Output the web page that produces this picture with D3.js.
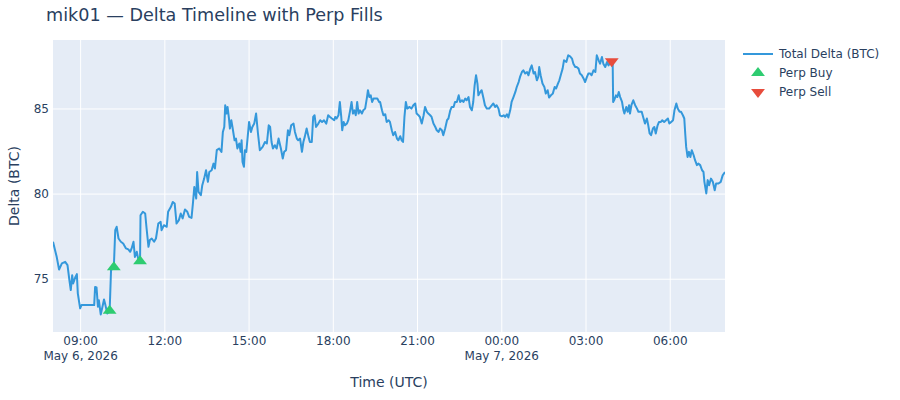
<!DOCTYPE html>
<html>
<head>
<meta charset="utf-8">
<script src="https://cdn.jsdelivr.net/npm/d3@7"></script>
<style>
  body { margin: 0; background: #fff; }
  svg { font-family: "DejaVu Sans", Verdana, sans-serif; }
</style>
</head>
<body>
<svg id="chart" width="900" height="400"></svg>
<script>
// series start, every reading is minutes after this
const startTime = "2026-05-06T08:01:00Z";

const minutesFromStart = [
  0,8,13,19,26,31,35,38,41,43,48,51,53,58,61,
  88,90,93,96,98,102,105,109,112,116,121,
  124,130,
  133,136,140,145,150,156,161,165,168,172,175,179,182,186,
  187,192,197,200,204,207,211,216,220,225,230,
  232,237,243,246,252,256,260,
  264,269,273,277,282,287,291,296,299,302,
  306,308,311,316,319,323,327,331,334,339,
  343,346,350,355,360,363,366,368,371,373,
  376,378,381,384,388,391,394,398,401,403,
  405,408,410,413,415,419,423,426,430,434,
  438,442,448,453,457,461,464,
  467,470,474,478,482,487,491,494,498,502,
  505,509,514,517,521,524,528,532,535,538,
  542,546,549,553,556,559,562,567,571,575,
  579,584,588,592,596,601,603,606,610,613,
  616,618,621,624,628,631,635,638,641,644,
  647,650,653,656,660,663,667,671,673,676,
  679,682,685,689,693,697,
  699,703,706,710,713,717,720,724,727,731,
  735,738,742,745,748,751,754,757,762,766,
  770,774,777,781,784,788,792,795,799,802,
  806,809,813,817,820,824,827,831,834,838,
  842,845,849,852,856,859,863,867,870,874,
  877,881,884,888,891,895,898,901,904,907,
  909,913,916,920,923,927,932,
  938,941,945,948,952,955,959,963,966,970,
  973,977,980,984,988,991,995,998,1002,1005,
  1009,1013,1016,1020,1023,1027,1030,1034,1037,1039,
  1042,1046,1050,1053,1057,1060,1064,1068,1072,1075,
  1079,1082,1086,1089,1092,1097,1101,1105,1109,1112,
  1116,1119,1123,1126,1130,1134,1137,1141,1144,1148,
  1151,1155,1159,1162,1166,1169,
  1173,1176,1180,1184,1187,1191,1194,1196,1197,1199,
  1203,1206,1209,1212,1216,1219,1221,1225,1228,1231,
  1233,1236,1240,1244,1248,1251,1255,1258,1262,1265,
  1269,1272,1275,1278,1282,1285,1288,1292,1295,1299,
  1302,1306,1310,1314,1317,1321,1325,1328,1332,1335,
  1339,1342,1346,1349,1351,1353,1356,1359,1362,1365,
  1369,1372,1376,1379,1383,1387,1390,1392,1396,1399,
  1402,1406,1410,1414,1417,1422,1427,1431,1436
];

const totalDelta = [
  77.2,76.3,75.57,75.93,76.02,75.83,74.95,74.36,75.24,74.75,75.14,75.3,74.17,73.29,73.48,
  73.48,74.55,74.52,73.38,73.77,72.93,73.29,73.81,73.48,72.99,73.1,
  75.53,75.7,
  77.88,78.08,77.39,77.2,77.1,76.81,76.75,76.61,76.81,77.2,76.31,76.61,76.22,76.06,
  78.76,78.96,78.86,77.98,76.9,77.3,77.39,77.2,77.39,78.27,78.37,
  77.88,78.17,78.08,78.96,79.25,79.54,79.45,
  78.27,78.47,78.86,78.57,79.1,78.96,78.66,78.6,79.45,80.42,
  79.74,81.3,80.13,79.94,80.52,80.91,81.4,80.72,81.3,81.4,
  81.79,81.5,82.58,82.68,82.48,83.65,83.94,85.22,84.73,85.12,
  84.44,83.85,84.34,83.85,83.16,83.26,82.68,82.97,82.48,83.16,
  81.89,81.6,82.58,82.48,83.06,84.24,83.65,83.94,84.14,84.73,
  83.56,82.58,82.77,83.06,82.97,84.04,83.94,
  83.06,82.68,82.87,82.68,83.26,82.68,82.09,82.48,82.58,83.75,
  83.46,84.04,84.14,83.65,83.26,83.16,83.26,82.48,83.06,83.36,
  83.85,83.36,83.06,83.06,84.53,84.63,83.94,84.14,84.34,84.24,
  84.34,84.14,84.63,84.53,84.44,84.34,84.53,84.44,84.63,85.41,
  84.53,83.75,84.24,84.04,84.14,84.34,84.92,85.41,84.73,84.92,
  84.63,85.41,84.73,84.92,84.73,84.92,85.02,85.7,86.1,85.7,
  85.8,85.41,85.61,85.61,85.61,85.41,
  85.41,84.92,84.63,84.69,84.24,84.34,84.24,83.75,83.46,83.65,
  83.26,83.16,83.4,83.16,83.06,84.53,85.41,85.02,85.12,85.02,
  85.22,85.32,84.73,84.63,84.53,84.14,84.63,85.12,84.83,84.73,
  84.63,84.53,84.14,83.94,83.75,83.65,83.85,83.75,83.46,83.85,
  84.34,84.44,84.92,85.12,85.12,85.41,85.41,85.8,85.41,85.51,
  85.41,85.61,85.51,85.7,85.12,84.92,85.41,86.39,86.98,86.49,
  85.8,86.0,86.1,85.61,85.22,85.02,85.02,
  85.22,85.32,85.12,85.22,85.02,84.63,84.57,84.63,84.53,84.69,
  84.5,84.92,85.41,85.7,86.0,86.29,86.58,86.88,87.17,87.27,
  87.08,87.17,86.98,87.37,87.56,87.08,87.17,86.68,86.88,87.46,
  86.98,86.49,86.29,85.9,86.1,85.67,85.8,85.9,86.29,86.2,
  86.49,86.68,87.08,87.37,87.86,87.76,88.15,88.09,87.96,87.66,
  87.46,87.46,87.37,87.08,86.98,86.78,86.58,86.88,87.08,87.08,
  86.98,87.27,87.17,88.15,87.86,87.66,
  88.05,87.66,87.46,87.76,87.56,87.7,87.8,87.66,85.41,85.51,
  85.8,85.7,86.0,85.7,85.41,84.92,84.73,85.12,84.83,85.22,
  84.73,85.22,85.51,85.22,85.02,84.83,84.83,84.83,84.44,84.14,
  84.44,84.04,83.56,83.46,83.85,83.94,83.56,84.04,84.24,84.24,
  84.34,84.24,84.34,84.44,84.14,84.24,84.34,84.92,85.32,85.02,
  84.83,84.83,84.63,84.44,83.56,82.77,82.18,82.48,82.18,82.58,
  82.28,81.99,81.7,81.79,81.7,81.4,81.3,80.72,80.04,80.82,
  80.52,80.91,80.72,80.23,80.62,80.62,80.72,81.1,81.3
];

// perp fills
const buyMinutes = [121, 130, 186];
const buyDelta = [73.15, 75.7, 76.06];
const sellMinutes = [1194];
const sellDelta = [87.8];

const yTicks = [75, 80, 85];

const t0 = new Date(startTime);
const toTime = m => new Date(t0.getTime() + m * 60000);

const line = minutesFromStart.map((m, i) => ({ t: toTime(m), v: totalDelta[i] }));
const buys = buyMinutes.map((m, i) => ({ t: toTime(m), v: buyDelta[i] }));
const sells = sellMinutes.map((m, i) => ({ t: toTime(m), v: sellDelta[i] }));

const margin = {top: 40, right: 175, bottom: 68, left: 53},
    width = 900 - margin.left - margin.right,
    height = 400 - margin.top - margin.bottom;

const ink = "#2a3f5f";
const svg = d3.select("#chart");

const x = d3.scaleUtc().domain(d3.extent(line, d => d.t)).range([0, width]);
const y = d3.scaleLinear().domain([71.9, 89.05]).range([height, 0]);

svg.append("text")
    .attr("x", 46).attr("y", 20.5)
    .attr("font-size", 17.6).attr("fill", ink)
    .text("mik01 — Delta Timeline with Perp Fills");

const g = svg.append("g")
    .attr("transform", "translate(" + margin.left + "," + margin.top + ")");

g.append("rect").attr("width", width).attr("height", height).attr("fill", "#E5ECF6");

const xTicks = x.ticks(d3.utcHour.every(3));

// grid
g.append("g").selectAll("line").data(xTicks).join("line")
    .attr("x1", d => x(d)).attr("x2", d => x(d))
    .attr("y1", 0).attr("y2", height)
    .attr("stroke", "#fff").attr("stroke-width", 1);
g.append("g").selectAll("line").data(yTicks).join("line")
    .attr("x1", 0).attr("x2", width)
    .attr("y1", d => y(d)).attr("y2", d => y(d))
    .attr("stroke", "#fff").attr("stroke-width", 1);

// x axis labels, with the date under the first tick and each midnight
const fmtHour = d3.utcFormat("%H:%M");
const fmtDay = d3.utcFormat("%b %-d, %Y");
g.append("g").selectAll("text").data(xTicks).join("text")
    .attr("x", d => x(d)).attr("y", height + 13)
    .attr("text-anchor", "middle").attr("font-size", 12).attr("fill", ink)
    .text(d => fmtHour(d));
g.append("g").selectAll("text")
    .data(xTicks.filter((d, i) => i === 0 || d.getUTCHours() === 0)).join("text")
    .attr("x", d => x(d)).attr("y", height + 28)
    .attr("text-anchor", "middle").attr("font-size", 12).attr("fill", ink)
    .text(d => fmtDay(d));

g.append("g").selectAll("text").data(yTicks).join("text")
    .attr("x", -4).attr("y", d => y(d)).attr("dy", "0.35em")
    .attr("text-anchor", "end").attr("font-size", 12).attr("fill", ink)
    .text(d => d);

svg.append("text")
    .attr("x", margin.left + width / 2).attr("y", 387)
    .attr("text-anchor", "middle").attr("font-size", 14).attr("fill", ink)
    .text("Time (UTC)");
svg.append("text")
    .attr("transform", "translate(19," + (margin.top + height / 2) + ") rotate(-90)")
    .attr("text-anchor", "middle").attr("font-size", 14).attr("fill", ink)
    .text("Delta (BTC)");

// clip so the line stays inside
g.append("clipPath").attr("id", "clip")
  .append("rect").attr("width", width).attr("height", height);

const valueline = d3.line().x(d => x(d.t)).y(d => y(d.v));
g.append("path").datum(line)
    .attr("clip-path", "url(#clip)")
    .attr("fill", "none").attr("stroke", "#3498db")
    .attr("stroke-width", 2).attr("stroke-linejoin", "round")
    .attr("d", valueline);

// plotly style triangles, r = half the marker size
const r = 6, rt = r * 2 / Math.sqrt(3);
const triUp = "M" + (-rt) + "," + (r / 2) + "H" + rt + "L0," + (-r) + "Z";
const triDown = "M" + (-rt) + "," + (-r / 2) + "H" + rt + "L0," + r + "Z";

g.append("g").selectAll("path").data(buys).join("path")
    .attr("transform", d => "translate(" + x(d.t) + "," + y(d.v) + ")")
    .attr("d", triUp).attr("fill", "#2ecc71");
g.append("g").selectAll("path").data(sells).join("path")
    .attr("transform", d => "translate(" + x(d.t) + "," + y(d.v) + ")")
    .attr("d", triDown).attr("fill", "#e74c3c");

// legend
const legend = svg.append("g").attr("transform", "translate(743,54)");
legend.append("line").attr("x1", 0).attr("x2", 30).attr("y1", 0).attr("y2", 0)
    .attr("stroke", "#3498db").attr("stroke-width", 2);
legend.append("path").attr("transform", "translate(15,19)").attr("d", triUp).attr("fill", "#2ecc71");
legend.append("path").attr("transform", "translate(15,38)").attr("d", triDown).attr("fill", "#e74c3c");
legend.selectAll("text").data(["Total Delta (BTC)", "Perp Buy", "Perp Sell"]).join("text")
    .attr("x", 36).attr("y", (d, i) => i * 19).attr("dy", "0.35em")
    .attr("font-size", 12).attr("fill", ink)
    .text(d => d);
</script>
</body>
</html>
